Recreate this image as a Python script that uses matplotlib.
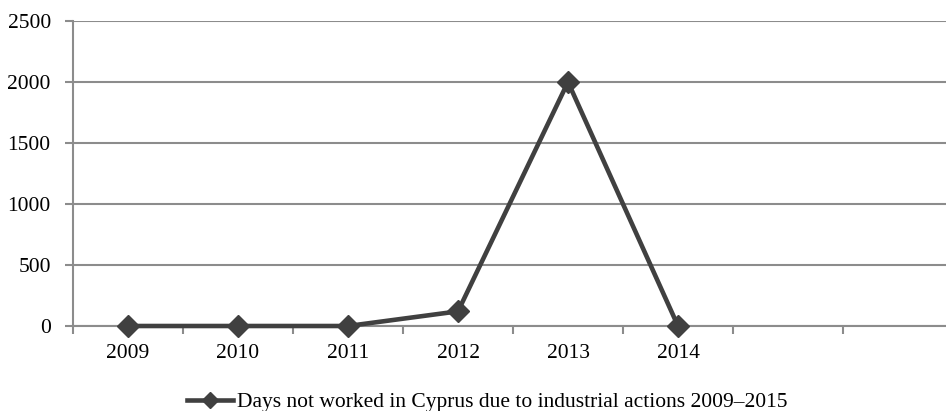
import matplotlib
matplotlib.use("Agg")
import matplotlib.pyplot as plt

# Data
years = ["2009", "2010", "2011", "2012", "2013", "2014"]
slots = years + ["", ""]  # two empty category slots on the axis
days_lost = [0, 0, 0, 120, 2000, 0]
y_ticks = [0, 500, 1000, 1500, 2000, 2500]
series_label = "Days not worked in Cyprus due to industrial actions 2009\u20132015"

plt.rcParams["font.family"] = ["Liberation Serif", "DejaVu Serif"]

W, H = 946, 411
fig = plt.figure(figsize=(W / 100, H / 100), dpi=100)
x0, x1 = 73, 953
ytop, ybot = 21, 326
ax = fig.add_axes([x0 / W, 1 - ybot / H, (x1 - x0) / W, (ybot - ytop) / H])

grid_col = "#8c8c8c"
line_col = "#404040"
fs = 15.5

ax.set_xlim(-0.5, len(slots) - 0.5)
ax.set_ylim(0, 2500)
ax.set_yticks(y_ticks)
ax.set_yticklabels([str(v) for v in y_ticks], fontsize=fs)
ax.yaxis.grid(True, color=grid_col, linewidth=1.5)
ax.set_axisbelow(True)

# category labels centred, tick marks on boundaries
ax.set_xticks(range(len(years)))
ax.set_xticklabels(years, fontsize=fs)
ax.tick_params(axis="x", length=0, pad=13)
ax.set_xticks([i - 0.5 for i in range(len(slots) + 1)], minor=True)
ax.tick_params(axis="x", which="minor", length=6, width=1.5, color=grid_col, direction="out")
ax.tick_params(axis="y", length=6, width=1.5, color=grid_col, pad=10)

for side in ["top", "right"]:
    ax.spines[side].set_visible(False)
for side in ["left", "bottom"]:
    ax.spines[side].set_color(grid_col)
    ax.spines[side].set_linewidth(1.5)

ln, = ax.plot(range(len(years)), days_lost, color=line_col, linewidth=3.3,
              marker="D", markersize=11, markerfacecolor=line_col,
              markeredgecolor=line_col, label=series_label, clip_on=False, zorder=3)

fig.legend(handles=[ln], loc="center left", bbox_to_anchor=(187 / W, 1 - 402 / H),
           frameon=False, fontsize=fs, handlelength=2.15, handletextpad=0.15,
           markerscale=0.75, borderpad=0, borderaxespad=0)

fig.savefig("out.png", dpi=100)
